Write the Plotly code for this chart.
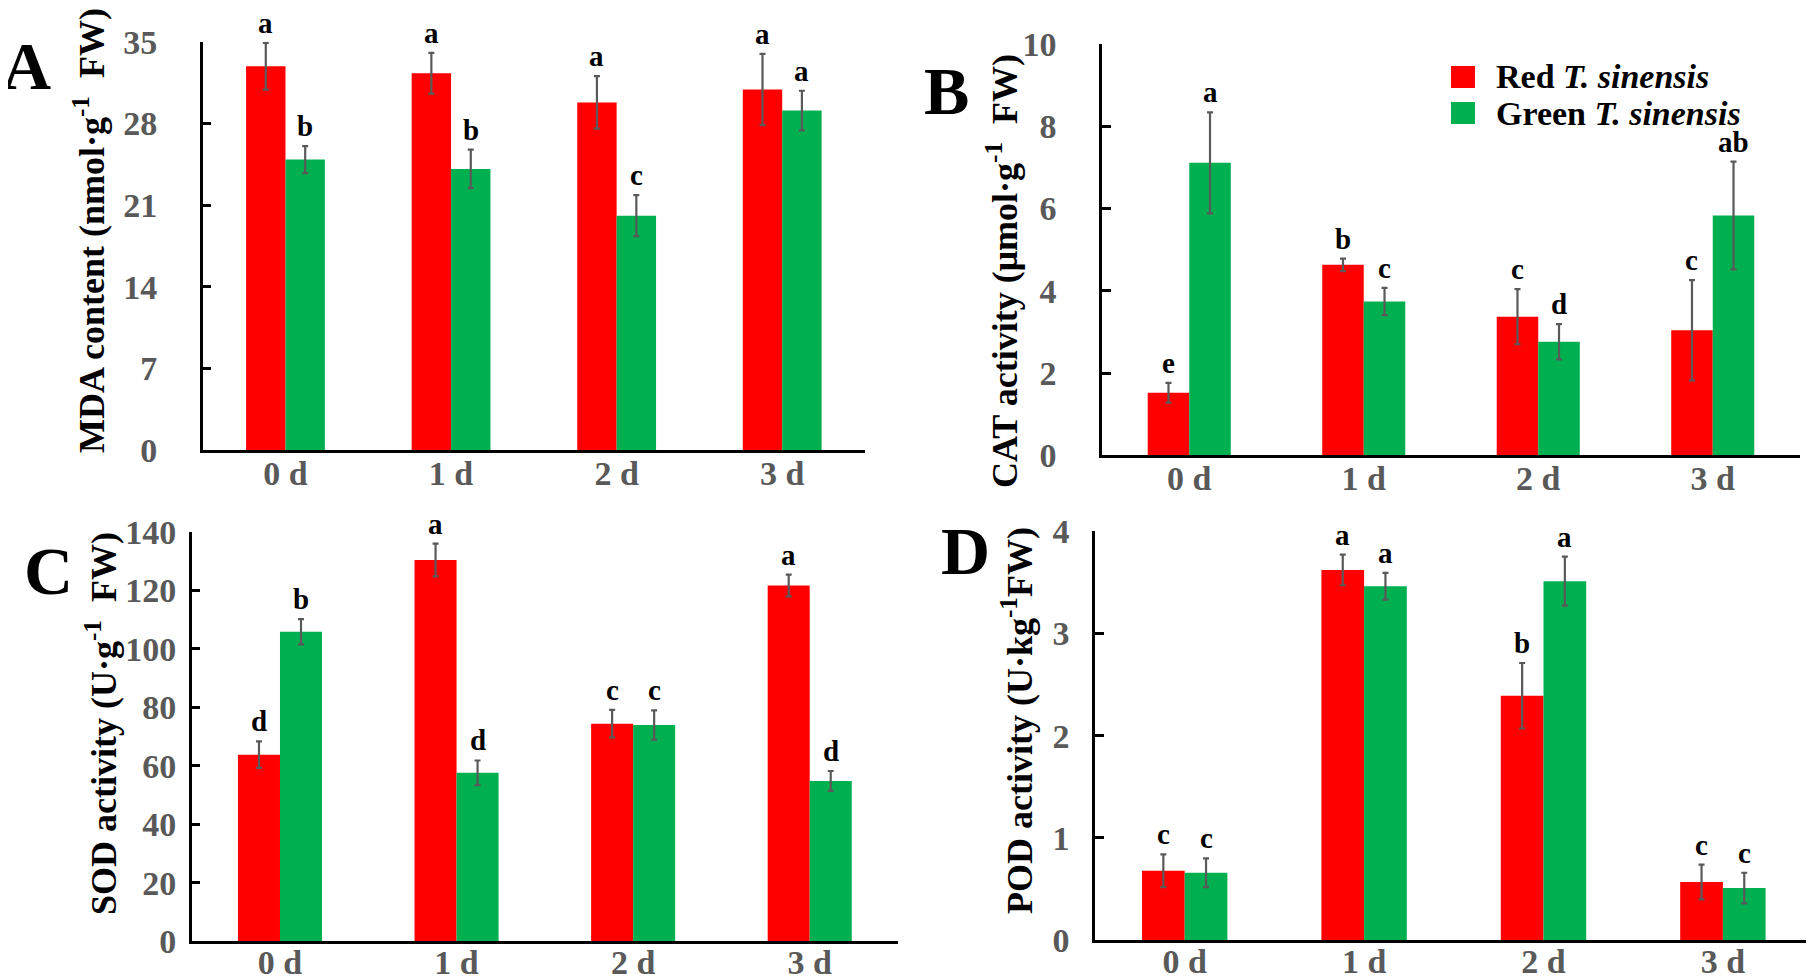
import plotly.graph_objects as go

# ---- data ----
days = ["0 d", "1 d", "2 d", "3 d"]

mda_red = [32.9, 32.3, 29.8, 30.9]
mda_red_err = [2.0, 1.75, 2.25, 3.05]
mda_green = [24.9, 24.1, 20.1, 29.1]
mda_green_err = [1.15, 1.65, 1.75, 1.7]
mda_red_sig = ["a", "a", "a", "a"]
mda_green_sig = ["b", "b", "c", "a"]

cat_red = [1.52, 4.63, 3.37, 3.04]
cat_red_err = [0.24, 0.15, 0.67, 1.22]
cat_green = [7.11, 3.74, 2.76, 5.83]
cat_green_err = [1.23, 0.33, 0.43, 1.31]
cat_red_sig = ["e", "b", "c", "c"]
cat_green_sig = ["a", "c", "d", "ab"]

sod_red = [63.8, 130.3, 74.4, 121.6]
sod_red_err = [4.5, 5.6, 4.7, 3.7]
sod_green = [105.8, 57.6, 73.9, 54.8]
sod_green_err = [4.3, 4.2, 5.0, 3.4]
sod_red_sig = ["d", "a", "c", "a"]
sod_green_sig = ["b", "d", "c", "d"]

pod_red = [0.68, 3.62, 2.39, 0.57]
pod_red_err = [0.16, 0.15, 0.32, 0.17]
pod_green = [0.66, 3.46, 3.51, 0.51]
pod_green_err = [0.14, 0.13, 0.24, 0.15]
pod_red_sig = ["c", "a", "b", "c"]
pod_green_sig = ["c", "a", "a", "c"]

series_names = ["Red <i>T. sinensis</i>", "Green <i>T. sinensis</i>"]

# ---- style ----
PAGE_W, PAGE_H = 1814, 978
BODY = 8  # default body margin of the html page
W, H = PAGE_W - BODY, PAGE_H - BODY
RED = "#FF0000"
GREEN = "#00B050"
GREY = "#595959"
FONT = "Liberation Serif"
BARGAP = 0.524


# positions below are given in page pixels
def px_x(v):
    return (v - BODY) / W


def px_y(v):
    return 1 - (v - BODY) / H


panels = [
    dict(letter="A", red=mda_red, red_err=mda_red_err, green=mda_green, green_err=mda_green_err,
         red_sig=mda_red_sig, green_sig=mda_green_sig, ymax=35, dtick=7,
         title="MDA content (nmol·g<sup>-1</sup>  FW)",
         xdom=(202.7, 865), ydom=(450.3, 41.7), standoff=36, xstandoff=-9,
         letter_pos=(26, 66), title_pos=(90, 231)),
    dict(letter="B", red=cat_red, red_err=cat_red_err, green=cat_green, green_err=cat_green_err,
         red_sig=cat_red_sig, green_sig=cat_green_sig, ymax=10, dtick=2,
         title="CAT activity (μmol·g<sup>-1</sup>  FW)",
         xdom=(1102, 1800), ydom=(455.3, 44), standoff=36, xstandoff=-9,
         letter_pos=(946, 91), title_pos=(1003, 271)),
    dict(letter="C", red=sod_red, red_err=sod_red_err, green=sod_green, green_err=sod_green_err,
         red_sig=sod_red_sig, green_sig=sod_green_sig, ymax=140, dtick=20,
         title="SOD activity (U·g<sup>-1</sup>  FW)",
         xdom=(191.7, 898), ydom=(941.3, 531.7), standoff=6, xstandoff=-11,
         letter_pos=(48, 571), title_pos=(101, 724)),
    dict(letter="D", red=pod_red, red_err=pod_red_err, green=pod_green, green_err=pod_green_err,
         red_sig=pod_red_sig, green_sig=pod_green_sig, ymax=4, dtick=1,
         title="POD activity (U·kg<sup>-1</sup>FW)",
         xdom=(1095, 1812.6), ydom=(940.3, 531), standoff=16, xstandoff=-11,
         letter_pos=(966, 551), title_pos=(1017, 721)),
]

fig = go.Figure()
annotations = []
offset = (1 - BARGAP) / 4
idx = list(range(len(days)))

for k, p in enumerate(panels):
    n = "" if k == 0 else str(k + 1)
    xa, ya = "x" + n, "y" + n
    for vals, errs, color, name in [(p["red"], p["red_err"], RED, series_names[0]),
                                    (p["green"], p["green_err"], GREEN, series_names[1])]:
        fig.add_trace(go.Bar(
            x=idx, y=vals, name=name, marker=dict(color=color, line=dict(width=0)),
            error_y=dict(type="data", array=errs, color=GREY, thickness=2.2, width=3),
            xaxis=xa, yaxis=ya, showlegend=False,
        ))
    # significance letters
    for sig, vals, errs, sgn in [(p["red_sig"], p["red"], p["red_err"], -1),
                                 (p["green_sig"], p["green"], p["green_err"], 1)]:
        for i, s in enumerate(sig):
            annotations.append(dict(
                x=i + sgn * offset, y=vals[i] + errs[i], xref=xa, yref=ya,
                text=s, showarrow=False, yanchor="bottom", yshift=2,
                font=dict(family=FONT, size=29, color="black", weight="bold"),
            ))
    # panel letter and y title
    annotations.append(dict(
        x=px_x(p["letter_pos"][0]), y=px_y(p["letter_pos"][1]), xref="paper", yref="paper",
        text=p["letter"], showarrow=False, xanchor="center", yanchor="middle",
        font=dict(family=FONT, size=68, color="black", weight="bold"),
    ))
    annotations.append(dict(
        x=px_x(p["title_pos"][0]), y=px_y(p["title_pos"][1]), xref="paper", yref="paper",
        text=p["title"], showarrow=False, textangle=-90, xanchor="center", yanchor="middle",
        font=dict(family=FONT, size=36, color="black", weight="bold"),
    ))

    axis_common = dict(showline=True, linecolor="black", linewidth=2.5, showgrid=False,
                       zeroline=False, automargin=False)
    fig.update_layout({
        "xaxis" + n: dict(
            domain=[px_x(p["xdom"][0]), px_x(p["xdom"][1])], anchor=ya,
            range=[-0.5, len(days) - 0.5], tickmode="array", tickvals=idx, ticktext=days,
            ticks="", ticklabelstandoff=p["xstandoff"],
            tickfont=dict(family=FONT, size=34, color=GREY, weight="bold"), **axis_common),
        "yaxis" + n: dict(
            domain=[px_y(p["ydom"][0]), px_y(p["ydom"][1])], anchor=xa,
            range=[0, p["ymax"]], dtick=p["dtick"], tick0=0,
            ticks="inside", ticklen=9, tickwidth=2.5, tickcolor="black",
            ticklabelstandoff=p["standoff"],
            tickfont=dict(family=FONT, size=34, color=GREY, weight="bold"), **axis_common),
    })

# legend drawn in panel B
legend_items = [(series_names[0], RED, 77), (series_names[1], GREEN, 113)]
shapes = []
for name, color, yc in legend_items:
    shapes.append(dict(type="rect", xref="paper", yref="paper",
                       x0=px_x(1451), x1=px_x(1475), y0=px_y(yc + 11), y1=px_y(yc - 11),
                       fillcolor=color, line=dict(width=0)))
    annotations.append(dict(
        x=px_x(1494), y=px_y(yc), xref="paper", yref="paper", text=name, showarrow=False,
        xanchor="left", yanchor="middle",
        font=dict(family=FONT, size=34, color="black", weight="bold"),
    ))

fig.update_layout(
    width=W, height=H, margin=dict(l=0, r=0, t=0, b=0, autoexpand=False),
    barmode="group", bargap=BARGAP, bargroupgap=0,
    plot_bgcolor="white", paper_bgcolor="white",
    showlegend=False, annotations=annotations, shapes=shapes,
)

fig.write_html("out.html")
